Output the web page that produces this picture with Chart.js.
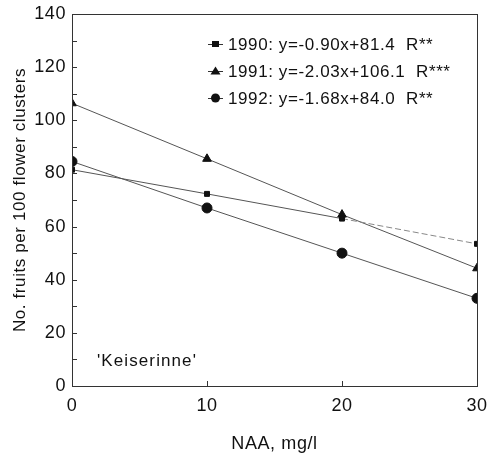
<!DOCTYPE html>
<html>
<head>
<meta charset="utf-8">
<script src="https://cdn.jsdelivr.net/npm/chart.js@4/dist/chart.umd.min.js"></script>
<style>
html,body{margin:0;padding:0;background:#fff;}
#wrap{width:494px;height:457px;position:relative;}
</style>
</head>
<body>
<div id="wrap"><canvas id="c" width="494" height="457"></canvas></div>
<script>
// ---- data ----
const naaDoses = [0, 10, 20, 30];
const fruits1990 = [81.4, 72.3, 63.0, 53.5];
const fruits1991 = [106.4, 85.5, 64.5, 44.3];
const fruits1992 = [84.5, 67.0, 50.0, 33.0];
const seriesLabels = ['1990: y=-0.90x+81.4  R**', '1991: y=-2.03x+106.1  R***', '1992: y=-1.68x+84.0  R**'];
const yTicks = [0, 20, 40, 60, 80, 100, 120, 140];
const xTicks = [0, 10, 20, 30];
const cultivar = "'Keiserinne'";

const FONT = '"Liberation Sans", Arial, sans-serif';
const pts = (ys) => naaDoses.map((x, i) => ({x, y: ys[i]}));

const spacing = {
  id: 'spacing',
  beforeUpdate(chart) { chart.ctx.letterSpacing = '0.6px'; },
  beforeDraw(chart) { chart.ctx.letterSpacing = '0.6px'; }
};

const frameAndTicks = {
  id: 'frameAndTicks',
  afterDatasetsDraw(chart) {
    const {ctx, chartArea: a, scales} = chart;
    ctx.save();
    ctx.strokeStyle = '#333';
    ctx.lineWidth = 1;
    ctx.strokeRect(Math.round(a.left) + 0.5, Math.round(a.top) + 0.5, Math.round(a.right - a.left), Math.round(a.bottom - a.top));
    ctx.beginPath();
    for (let v = 10; v < 140; v += 10) {
      const y = Math.round(scales.y.getPixelForValue(v)) + 0.5;
      ctx.moveTo(a.left, y); ctx.lineTo(a.left + 5, y);
    }
    [10, 20].forEach(v => {
      const x = Math.round(scales.x.getPixelForValue(v)) + 0.5;
      ctx.moveTo(x, a.bottom); ctx.lineTo(x, a.bottom - 5);
    });
    ctx.stroke();
    ctx.restore();
  }
};

const innerLegend = {
  id: 'innerLegend',
  afterDraw(chart) {
    const {ctx} = chart;
    ctx.save();
    ctx.letterSpacing = '0.6px';
    ctx.font = '17px ' + FONT;
    ctx.fillStyle = '#111';
    ctx.textBaseline = 'middle';
    const x0 = 208, rows = [44, 71, 98];
    chart.data.datasets.forEach((ds, i) => {
      const y = rows[i];
      ctx.strokeStyle = '#333';
      ctx.lineWidth = 1;
      ctx.beginPath(); ctx.moveTo(x0, y + 0.5); ctx.lineTo(x0 + 15, y + 0.5); ctx.stroke();
      ctx.fillStyle = '#111';
      ctx.beginPath();
      const cx = x0 + 7.5;
      if (ds.pointStyle === 'rect') ctx.rect(cx - 3.5, y - 3, 7, 6);
      else if (ds.pointStyle === 'triangle') { ctx.moveTo(cx, y - 4.5); ctx.lineTo(cx + 5, y + 3.5); ctx.lineTo(cx - 5, y + 3.5); ctx.closePath(); }
      else ctx.arc(cx, y, 4.5, 0, Math.PI * 2);
      ctx.fill();
      ctx.fillText(ds.label, x0 + 20, y + 1);
    });
    ctx.letterSpacing = '1.1px';
    ctx.fillText(cultivar, 97, 361);
    ctx.restore();
  }
};

new Chart(document.getElementById('c'), {
  type: 'scatter',
  data: {
    datasets: [
      {label: seriesLabels[0], data: pts(fruits1990), pointStyle: 'rect', pointRadius: 3.5, borderColor: '#555', backgroundColor: '#111', pointBorderColor: '#111', borderWidth: 1, showLine: true,
       segment: {borderDash: c => c.p0DataIndex === 2 ? [6, 3] : undefined, borderColor: c => c.p0DataIndex === 2 ? '#888' : undefined}},
      {label: seriesLabels[1], data: pts(fruits1991), pointStyle: 'triangle', pointRadius: 5, borderColor: '#555', backgroundColor: '#111', pointBorderColor: '#111', borderWidth: 1, showLine: true},
      {label: seriesLabels[2], data: pts(fruits1992), pointStyle: 'circle', pointRadius: 5, borderColor: '#555', backgroundColor: '#111', pointBorderColor: '#111', borderWidth: 1, showLine: true}
    ]
  },
  options: {
    responsive: false,
    animation: false,
    layout: {padding: {left: 10, right: 17, top: 14, bottom: 0}},
    plugins: {legend: {display: false}, tooltip: {enabled: false}},
    scales: {
      x: {
        type: 'linear', min: 0, max: 30,
        afterBuildTicks: (s) => { s.ticks = xTicks.map(v => ({value: v})); },
        afterFit: (s) => { s.height = 71; s.paddingLeft = 0; s.paddingRight = 0; },
        grid: {display: false, drawTicks: false},
        border: {display: false},
        ticks: {color: '#111', font: {size: 18, family: FONT}, padding: 9, maxRotation: 0},
        title: {display: true, text: 'NAA, mg/l', color: '#111', font: {size: 18, family: FONT}, padding: {top: 0, bottom: 2}}
      },
      y: {
        type: 'linear', min: 0, max: 140,
        afterBuildTicks: (s) => { s.ticks = yTicks.map(v => ({value: v})); },
        afterFit: (s) => { s.width = 62; s.paddingTop = 0; s.paddingBottom = 0; },
        grid: {display: false, drawTicks: false},
        border: {display: false},
        ticks: {color: '#111', font: {size: 18, family: FONT}, padding: 6},
        title: {display: true, text: 'No. fruits per 100 flower clusters', color: '#111', font: {size: 17, family: FONT}, padding: {top: 0, bottom: 4}}
      }
    }
  },
  plugins: [spacing, frameAndTicks, innerLegend]
});
</script>
</body>
</html>
